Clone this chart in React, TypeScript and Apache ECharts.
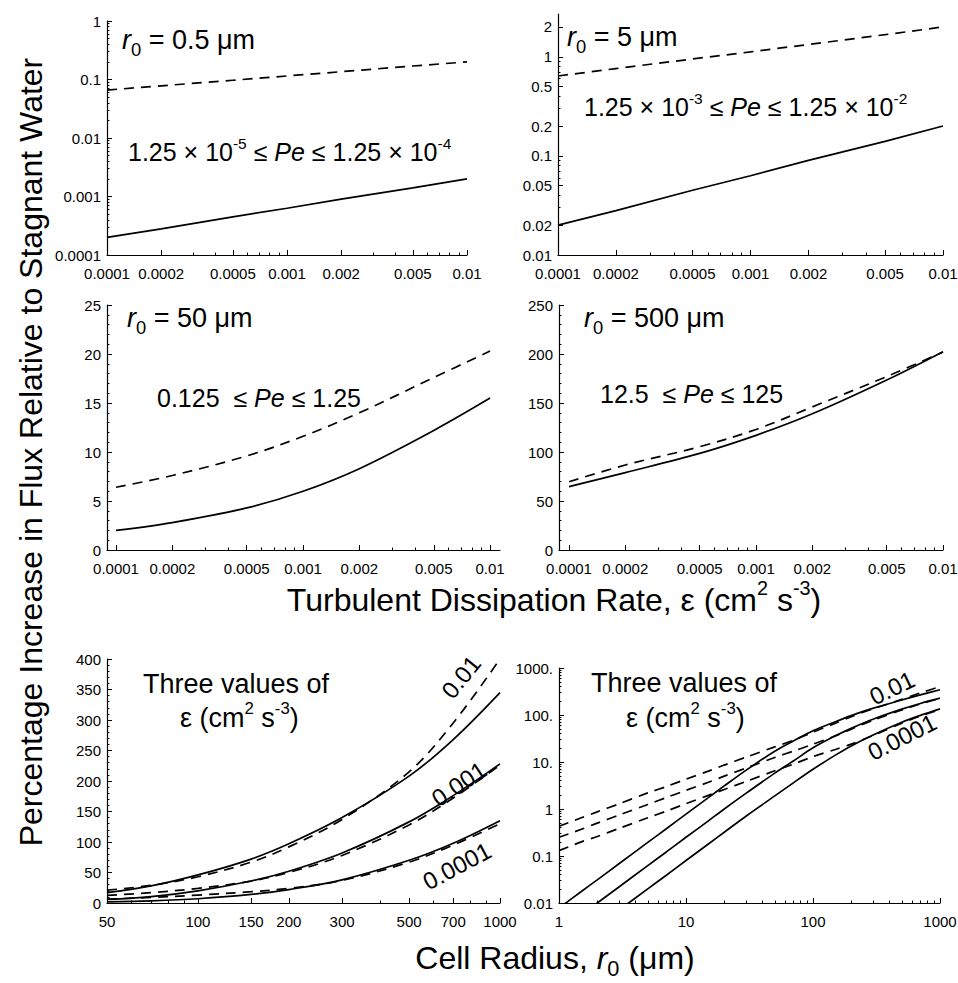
import React, { useEffect, useRef } from 'react';
import * as echarts from 'echarts';

// ---------------- data ----------------
const epsilon = [0.0001, 0.0002, 0.0005, 0.001, 0.002, 0.005, 0.01];
const epsilonLabels = ['0.0001', '0.0002', '0.0005', '0.001', '0.002', '0.005', '0.01'];
const epsilonMinor = [0.0003, 0.0004, 0.0006, 0.0007, 0.0008, 0.0009, 0.003, 0.004, 0.006, 0.007, 0.008, 0.009];

// r0 = 0.5 um
const r05Solid = [0.0002, 0.00028, 0.00045, 0.00063, 0.0009, 0.0014, 0.002];
const r05Dashed = [0.066, 0.078, 0.097, 0.115, 0.136, 0.17, 0.2];
// r0 = 5 um
const r5Solid = [0.02, 0.028, 0.045, 0.063, 0.09, 0.14, 0.2];
const r5Dashed = [0.64, 0.76, 0.95, 1.12, 1.33, 1.67, 2.0];
// r0 = 50 um
const r50Solid = [2.0, 2.8, 4.3, 6.0, 8.3, 12.2, 15.5];
const r50Dashed = [6.4, 7.6, 9.6, 11.6, 14.0, 17.6, 20.3];
// r0 = 500 um
const r500Solid = [64.6, 79, 98.6, 117, 139, 173.5, 202.4];
const r500Dashed = [69.7, 86.7, 105.4, 123, 146, 177, 202];

// cell radius panels (three epsilon values)
const radius = [1, 1.5, 2, 3, 5, 7, 10, 15, 20, 30, 50, 70, 100, 150, 200, 300, 500, 700, 1000];
const solidEps01 = [0.0078, 0.0176, 0.031, 0.07, 0.195, 0.38, 0.78, 1.75, 3.1, 6.8, 17, 28, 46, 72, 97, 140, 208, 268, 345];
const dashedEps01 = [0.43, 0.65, 0.87, 1.3, 2.2, 3.0, 4.3, 6.4, 8.6, 12.8, 21, 29, 43, 67, 92, 137, 215, 295, 400];
const solidEps001 = [0.0025, 0.0056, 0.01, 0.0225, 0.0625, 0.122, 0.25, 0.56, 1.0, 2.2, 5.8, 10.5, 20, 36, 52, 82, 133, 176, 228];
const dashedEps001 = [0.25, 0.37, 0.5, 0.75, 1.25, 1.75, 2.5, 3.7, 5, 7.5, 12.5, 17, 24, 36, 50, 78, 128, 172, 226];
const solidEps0001 = [0.0008, 0.0018, 0.0032, 0.0072, 0.02, 0.039, 0.08, 0.18, 0.32, 0.72, 1.9, 3.6, 7, 14, 22, 38, 70, 98, 135];
const dashedEps0001 = [0.13, 0.2, 0.26, 0.39, 0.65, 0.9, 1.3, 1.95, 2.6, 3.9, 6.5, 9, 13, 18.5, 24, 37, 67, 95, 130];

// tick values / labels
const p1YTicks = [0.0001, 0.001, 0.01, 0.1, 1];
const p1YLabels = ['0.0001', '0.001', '0.01', '0.1', '1'];
const p1YMinor = [0.0002, 0.0003, 0.0004, 0.0005, 0.0006, 0.0007, 0.0008, 0.0009, 0.002, 0.003, 0.004, 0.005, 0.006, 0.007, 0.008, 0.009, 0.02, 0.03, 0.04, 0.05, 0.06, 0.07, 0.08, 0.09, 0.2, 0.3, 0.4, 0.5, 0.6, 0.7, 0.8, 0.9];
const p2YTicks = [0.01, 0.02, 0.05, 0.1, 0.2, 0.5, 1, 2];
const p2YLabels = ['0.01', '0.02', '0.05', '0.1', '0.2', '0.5', '1', '2'];
const p2YMinor = [0.03, 0.04, 0.06, 0.07, 0.08, 0.09, 0.3, 0.4, 0.6, 0.7, 0.8, 0.9];
const radiusTicksA = [50, 100, 150, 200, 300, 500, 700, 1000];
const radiusLabelsA = ['50', '100', '150', '200', '300', '500', '700', '1000'];
const radiusMinorA = [60, 70, 80, 90, 400, 600, 800, 900];
const radiusTicksB = [1, 10, 100, 1000];
const radiusLabelsB = ['1', '10', '100', '1000'];
const radiusMinorB = [2, 3, 4, 5, 6, 7, 8, 9, 20, 30, 40, 50, 60, 70, 80, 90, 200, 300, 400, 500, 600, 700, 800, 900];
const p6YTicks = [0.01, 0.1, 1, 10, 100, 1000];
const p6YLabels = ['0.01', '0.1', '1', '10.', '100.', '1000.'];
const p6YMinor = [0.02, 0.03, 0.04, 0.05, 0.06, 0.07, 0.08, 0.09, 0.2, 0.3, 0.4, 0.5, 0.6, 0.7, 0.8, 0.9, 2, 3, 4, 5, 6, 7, 8, 9, 20, 30, 40, 50, 60, 70, 80, 90, 200, 300, 400, 500, 600, 700, 800, 900];

// ---------------- helpers ----------------
const FONT = "'Liberation Sans', Arial, Helvetica, sans-serif";
const L = (v: number) => Math.log10(v);

function nearest(vals: number[], labels: string[], v: number) {
  let best = 0;
  let bd = Infinity;
  vals.forEach((m, i) => {
    const d = Math.abs(m - v);
    if (d < bd) { bd = d; best = i; }
  });
  return bd < 1e-4 ? labels[best] : '';
}

interface AxisSpec {
  grid: number; log: boolean; min: number; max: number;
  majors?: number[]; labels?: string[]; minors?: number[];
  interval?: number; minorSplit?: number;
}

const tickLine = { color: '#000', width: 1 };
const labelStyle = { color: '#000', fontFamily: FONT, fontSize: 15 };

function axesFor(dim: 'x' | 'y', s: AxisSpec): any[] {
  const base: any = {
    type: 'value', gridIndex: s.grid, position: dim === 'x' ? 'bottom' : 'left',
    min: s.log ? L(s.min) : s.min, max: s.log ? L(s.max) : s.max,
    splitLine: { show: false },
  };
  const margin = dim === 'x' ? 11 : 6;
  if (s.log) {
    const mv = s.majors!.map(L);
    const labels = s.labels!;
    const major = {
      ...base,
      axisLine: { show: true, onZero: false, lineStyle: { color: '#000', width: 1.2 } },
      axisTick: { show: true, inside: true, length: 5, customValues: mv, lineStyle: tickLine },
      axisLabel: { show: true, customValues: mv, margin, ...labelStyle, formatter: (v: number) => nearest(mv, labels, v) },
    };
    const minor = {
      ...base,
      axisLine: { show: false, onZero: false },
      axisTick: { show: true, inside: true, length: 2.5, customValues: s.minors!.map(L), lineStyle: tickLine },
      axisLabel: { show: false },
    };
    return [major, minor];
  }
  return [{
    ...base,
    interval: s.interval,
    axisLine: { show: true, onZero: false, lineStyle: { color: '#000', width: 1.2 } },
    axisTick: { show: true, inside: true, length: 5, lineStyle: tickLine },
    minorTick: { show: true, splitNumber: s.minorSplit, length: 2.5, lineStyle: tickLine },
    axisLabel: { show: true, margin, ...labelStyle },
  }];
}

function makeRich(fs: number) {
  return {
    i: { fontSize: fs, fontStyle: 'italic', fontFamily: FONT, fill: '#000', lineHeight: fs * 1.35 },
    sub: { fontSize: fs * 0.68, fontFamily: FONT, fill: '#000', verticalAlign: 'bottom', lineHeight: fs * 0.68 },
    sup: { fontSize: fs * 0.62, fontFamily: FONT, fill: '#000', verticalAlign: 'top', lineHeight: fs * 0.62 },
  };
}

function txt(x: number, y: number, text: string, fs: number, align = 'left', rotationDeg = 0): any {
  return {
    type: 'text', x, y, rotation: (rotationDeg * Math.PI) / 180,
    style: {
      text, fontSize: fs, fontFamily: FONT, fill: '#000', lineHeight: fs * 1.35,
      textAlign: align, textVerticalAlign: 'middle', rich: makeRich(fs),
    },
  };
}

// ---------------- option ----------------
function buildOption() {
  const grids = [
    { left: 107, top: 21, width: 360, height: 234 },
    { left: 558, top: 14, width: 385, height: 241 },
    { left: 107, top: 305, width: 393, height: 245 },
    { left: 559, top: 305, width: 384, height: 245 },
    { left: 107, top: 659, width: 393, height: 244 },
    { left: 559, top: 668, width: 381, height: 235 },
  ].map((g) => ({ ...g, containLabel: false, outerBoundsMode: 'none' }));

  const xSpecs: AxisSpec[] = [
    { grid: 0, log: true, min: 0.0001, max: 0.01, majors: epsilon, labels: epsilonLabels, minors: epsilonMinor },
    { grid: 1, log: true, min: 0.0001, max: 0.01, majors: epsilon, labels: epsilonLabels, minors: epsilonMinor },
    { grid: 2, log: true, min: 0.0000895, max: 0.0113, majors: epsilon, labels: epsilonLabels, minors: epsilonMinor },
    { grid: 3, log: true, min: 0.0000884, max: 0.01, majors: epsilon, labels: epsilonLabels, minors: epsilonMinor },
    { grid: 4, log: true, min: 50, max: 1000, majors: radiusTicksA, labels: radiusLabelsA, minors: radiusMinorA },
    { grid: 5, log: true, min: 1, max: 1000, majors: radiusTicksB, labels: radiusLabelsB, minors: radiusMinorB },
  ];
  const ySpecs: AxisSpec[] = [
    { grid: 0, log: true, min: 0.0001, max: 1, majors: p1YTicks, labels: p1YLabels, minors: p1YMinor },
    { grid: 1, log: true, min: 0.01, max: 2.7, majors: p2YTicks, labels: p2YLabels, minors: p2YMinor },
    { grid: 2, log: false, min: 0, max: 25, interval: 5, minorSplit: 5 },
    { grid: 3, log: false, min: 0, max: 250, interval: 50, minorSplit: 5 },
    { grid: 4, log: false, min: 0, max: 400, interval: 50, minorSplit: 5 },
    { grid: 5, log: true, min: 0.01, max: 1000, majors: p6YTicks, labels: p6YLabels, minors: p6YMinor },
  ];

  const xAxes: any[] = [];
  const yAxes: any[] = [];
  const xIdx: number[] = [];
  const yIdx: number[] = [];
  xSpecs.forEach((s) => { xIdx.push(xAxes.length); xAxes.push(...axesFor('x', s)); });
  ySpecs.forEach((s) => { yIdx.push(yAxes.length); yAxes.push(...axesFor('y', s)); });

  const series: any[] = [];
  const addLine = (p: number, xs: number[], ys: number[], logX: boolean, logY: boolean, dashed: boolean, smooth: number | boolean) => {
    const data = xs.map((x, i) => [logX ? L(x) : x, logY ? L(ys[i]) : ys[i]]);
    series.push({
      type: 'line', xAxisIndex: xIdx[p], yAxisIndex: yIdx[p], data,
      showSymbol: false, symbol: 'none', smooth, clip: true, silent: true,
      lineStyle: { color: '#000', width: 1.7, type: dashed ? [10, 7] : 'solid' },
    });
  };

  addLine(0, epsilon, r05Solid, true, true, false, false);
  addLine(0, epsilon, r05Dashed, true, true, true, false);
  addLine(1, epsilon, r5Solid, true, true, false, false);
  addLine(1, epsilon, r5Dashed, true, true, true, false);
  addLine(2, epsilon, r50Solid, true, false, false, 0.35);
  addLine(2, epsilon, r50Dashed, true, false, true, 0.35);
  addLine(3, epsilon, r500Solid, true, false, false, 0.35);
  addLine(3, epsilon, r500Dashed, true, false, true, 0.35);

  // panel 5: cell radius >= 50, linear y
  const keep = radius.map((r) => r >= 50);
  const f = (arr: number[]) => arr.filter((_, i) => keep[i]);
  const rA = f(radius);
  [solidEps01, solidEps001, solidEps0001].forEach((a) => addLine(4, rA, f(a), true, false, false, 0.35));
  [dashedEps01, dashedEps001, dashedEps0001].forEach((a) => addLine(4, rA, f(a), true, false, true, 0.35));
  // panel 6: full range, log y
  [solidEps01, solidEps001, solidEps0001].forEach((a) => addLine(5, radius, a, true, true, false, 0.3));
  [dashedEps01, dashedEps001, dashedEps0001].forEach((a) => addLine(5, radius, a, true, true, true, 0.3));

  const graphic: any[] = [
    txt(122, 40, '{i|r}{sub|0} = 0.5 μm', 27),
    txt(128, 152, '1.25 × 10{sup|-5} ≤ {i|Pe} ≤ 1.25 × 10{sup|-4}', 25),
    txt(567, 37, '{i|r}{sub|0} = 5 μm', 27),
    txt(584, 107, '1.25 × 10{sup|-3} ≤ {i|Pe} ≤ 1.25 × 10{sup|-2}', 25),
    txt(127, 318, '{i|r}{sub|0} = 50 μm', 27),
    txt(157, 398, '0.125  ≤ {i|Pe} ≤ 1.25', 25),
    txt(584, 318, '{i|r}{sub|0} = 500 μm', 27),
    txt(600, 394, '12.5  ≤ {i|Pe} ≤ 125', 25),
    txt(554, 600, 'Turbulent Dissipation Rate, ε (cm{sup|2} s{sup|-3})', 32, 'center'),
    txt(31, 452, 'Percentage Increase in Flux Relative to Stagnant Water', 32, 'center', 90),
    txt(555, 958, 'Cell Radius, {i|r}{sub|0} (μm)', 32, 'center'),
    txt(143, 684, 'Three values of', 27),
    txt(180, 718, 'ε (cm{sup|2} s{sup|-3})', 27),
    txt(591, 683, 'Three values of', 27),
    txt(626, 718, 'ε (cm{sup|2} s{sup|-3})', 27),
    txt(461, 677, '0.01', 24, 'center', 51),
    txt(459, 784, '0.001', 24, 'center', 34),
    txt(457, 866, '0.0001', 24, 'center', 28),
    txt(892, 688, '0.01', 24, 'center', 26),
    txt(902, 737, '0.0001', 24, 'center', 27),
  ];

  return {
    animation: false,
    backgroundColor: '#fff',
    grid: grids,
    xAxis: xAxes,
    yAxis: yAxes,
    series,
    graphic,
  };
}

export default function App() {
  const ref = useRef<HTMLDivElement>(null);
  useEffect(() => {
    const chart = echarts.init(ref.current!, null, { renderer: 'svg' });
    chart.setOption(buildOption() as any);
    return () => chart.dispose();
  }, []);
  return (
    <div
      ref={ref}
      style={{ position: 'absolute', left: 0, top: 0, width: 958, height: 983, background: '#fff' }}
    />
  );
}
